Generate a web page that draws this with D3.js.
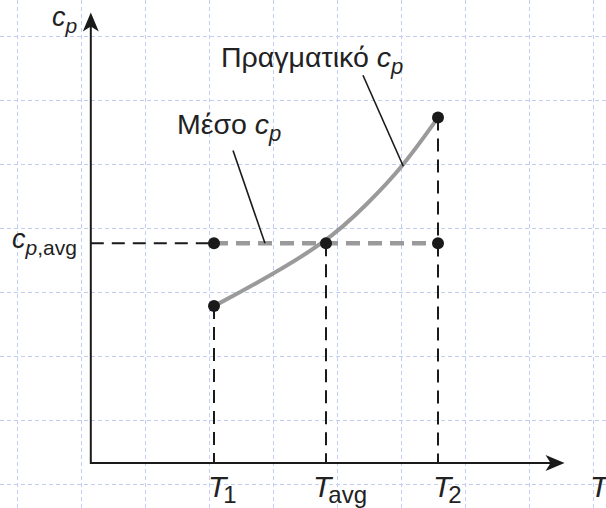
<!DOCTYPE html>
<html>
<head>
<meta charset="utf-8">
<script src="https://cdn.jsdelivr.net/npm/d3@7"></script>
<style>
  body { margin: 0; background: #fff; }
  svg { display: block; }
  text { font-family: "Liberation Sans", Arial, sans-serif; fill: #222; }
</style>
</head>
<body>
<div id="chart"></div>
<script>
// temperatures on the T axis (abstract units)
const tNames = ["1", "avg", "2"];
const tValues = [1, 2, 3];
// cp values
const cp1 = 1.0, cpAvg = 1.4, cp2 = 2.2;
const curveT  = [1, 1.32, 2, 2.37, 2.69, 3];
const curveCp = [1, 1.12, 1.4, 1.65, 1.89, 2.2];
// axis extents (data units)
const tMin = -0.1, tMax = 4.13;
const cpMax = 2.87;

var W = 606, H = 508;

var svg = d3.select("#chart").append("svg")
    .attr("width", W)
    .attr("height", H);

var x = d3.scaleLinear().domain([0, 4]).range([102, 550]);
var y = d3.scaleLinear().domain([0, 2.8]).range([463, 463 - 2.8 * 157]);

/*
 * grid de fundo
 */
var grid = svg.append("g").attr("stroke", "#c3cff2").attr("stroke-width", 1)
    .attr("stroke-dasharray", "4,3");
grid.selectAll("line.v").data(d3.range(17, W, 64)).enter().append("line")
    .attr("x1", d => d + 0.5).attr("x2", d => d + 0.5).attr("y1", 0).attr("y2", H);
grid.selectAll("line.h").data(d3.range(36, H, 64)).enter().append("line")
    .attr("y1", d => d + 0.5).attr("y2", d => d + 0.5).attr("x1", 0).attr("x2", W);

/*
 * linhas tracejadas pretas
 */
var dash = svg.append("g").attr("stroke", "#1a1a1a").attr("stroke-width", 2)
    .attr("stroke-dasharray", "13,8").attr("fill", "none");
dash.append("line")
    .attr("x1", x(tMin)).attr("x2", x(tValues[0]))
    .attr("y1", y(cpAvg)).attr("y2", y(cpAvg));
var tops = [cp1, cpAvg, cp2];
dash.selectAll("line.v").data(tValues).enter().append("line")
    .attr("x1", d => x(d)).attr("x2", d => x(d))
    .attr("y1", (d, i) => y(tops[i])).attr("y2", y(0));

// linha media cinza
svg.append("line")
    .attr("x1", x(tValues[0])).attr("x2", x(tValues[2]))
    .attr("y1", y(cpAvg)).attr("y2", y(cpAvg))
    .attr("stroke", "#9a9a9a").attr("stroke-width", 4.5)
    .attr("stroke-dasharray", "14,8");

// curva real
var pts = curveT.map((t, i) => [t, curveCp[i]]);
svg.append("path")
    .datum(pts)
    .attr("d", d3.line().x(d => x(d[0])).y(d => y(d[1])).curve(d3.curveBasis))
    .attr("fill", "none").attr("stroke", "#9a9a9a").attr("stroke-width", 4);

/*
 * eixos
 */
svg.append("line")
    .attr("x1", x(tMin)).attr("x2", x(tMax) - 10)
    .attr("y1", y(0)).attr("y2", y(0))
    .attr("stroke", "#1a1a1a").attr("stroke-width", 2);
svg.append("line")
    .attr("x1", x(tMin)).attr("x2", x(tMin))
    .attr("y1", y(0) + 1).attr("y2", y(cpMax) + 10)
    .attr("stroke", "#1a1a1a").attr("stroke-width", 2);
// pontas das setas
var ax = x(tMax), ay = y(0);
svg.append("path")
    .attr("d", `M${ax},${ay} L${ax - 19},${ay - 8} L${ax - 14},${ay} L${ax - 19},${ay + 8} Z`)
    .attr("fill", "#1a1a1a");
var bx = x(tMin), by = y(cpMax);
svg.append("path")
    .attr("d", `M${bx},${by} L${bx - 8},${by + 19} L${bx},${by + 14} L${bx + 8},${by + 19} Z`)
    .attr("fill", "#1a1a1a");

// pontos
var dots = [[tValues[0], cpAvg], [tValues[1], cpAvg], [tValues[2], cpAvg],
            [tValues[0], cp1], [tValues[2], cp2]];
svg.selectAll("circle").data(dots).enter().append("circle")
    .attr("cx", d => x(d[0])).attr("cy", d => y(d[1]))
    .attr("r", 6).attr("fill", "#1a1a1a");

// linhas de chamada
var leaders = [[[2.33, 2.47], [2.69, 1.89]], [[1.17, 1.99], [1.455, 1.4]]];
svg.selectAll("line.lead").data(leaders).enter().append("line")
    .attr("x1", d => x(d[0][0])).attr("y1", d => y(d[0][1]))
    .attr("x2", d => x(d[1][0])).attr("y2", d => y(d[1][1]))
    .attr("stroke", "#1a1a1a").attr("stroke-width", 1.6);

/*
 * textos
 */
function cpLabel(g, px, py, size, rest, subSize) {
    var t = g.append("text").attr("x", px).attr("y", py).style("font-size", size + "px");
    t.append("tspan").attr("font-style", "italic").text("c");
    t.append("tspan").attr("font-style", "italic").attr("dy", 7)
        .style("font-size", subSize + "px").text("p");
    if (rest) t.append("tspan").style("font-size", subSize + "px").text(rest);
    return t;
}
cpLabel(svg, 52, 26, 27, null, 21);
cpLabel(svg, 12, 248, 27, ",avg", 21);

var real = svg.append("text").attr("x", 221).attr("y", 67).style("font-size", "28.5px");
real.append("tspan").text("Πραγματικό ");
real.append("tspan").attr("font-style", "italic").text("c");
real.append("tspan").attr("font-style", "italic").attr("dy", 7).style("font-size", "22px").text("p");

var meso = svg.append("text").attr("x", 177).attr("y", 134).style("font-size", "28.5px");
meso.append("tspan").text("Μέσο ");
meso.append("tspan").attr("font-style", "italic").text("c");
meso.append("tspan").attr("font-style", "italic").attr("dy", 7).style("font-size", "22px").text("p");

var tOffsets = [-6, -13, -5];
svg.selectAll("text.tl").data(tValues).enter().append("text")
    .attr("x", (d, i) => x(d) + tOffsets[i]).attr("y", 497)
    .style("font-size", "30px")
    .each(function (d, i) {
        var s = d3.select(this);
        s.append("tspan").attr("font-style", "italic").text("T");
        s.append("tspan").attr("dy", 6).attr("dx", -3).style("font-size", "24px").text(tNames[i]);
    });
svg.append("text").attr("x", 590).attr("y", 497).style("font-size", "30px")
    .attr("font-style", "italic").text("T");
</script>
</body>
</html>
